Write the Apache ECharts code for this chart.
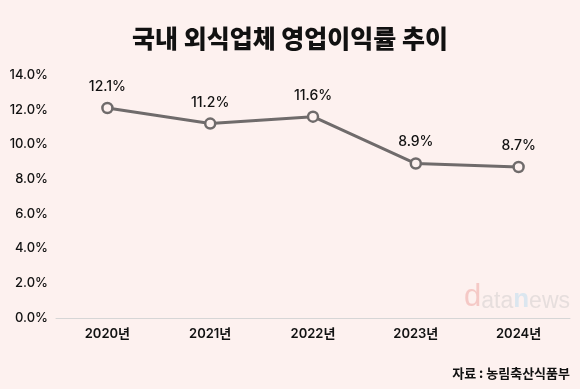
<!DOCTYPE html>
<html><head><meta charset="utf-8">
<script src="https://cdn.jsdelivr.net/npm/echarts@6/dist/echarts.min.js"></script>
<style>html,body{margin:0;padding:0;background:#fdf1ef;}#c{width:580px;height:389px;}</style>
</head><body><div id="c"></div>
<script>
const categories = ['2020년','2021년','2022년','2023년','2024년'];
const values = [12.1, 11.2, 11.6, 8.9, 8.7];
const title = '국내 외식업체 영업이익률 추이';
const source = '자료 : 농림축산식품부';

const chart = echarts.init(document.getElementById('c'));
const font = 'Inter, "Noto Sans CJK KR", sans-serif';
chart.setOption({
  backgroundColor: '#fdf1ef',
  title: {
    text: title, left: 'center', top: 21,
    textStyle: {fontFamily: '"Noto Sans CJK KR", sans-serif', fontWeight: 900, fontSize: 25, color: '#111'}
  },
  grid: {left: 56, right: 10, top: 75, bottom: 71},
  xAxis: {
    type: 'category', data: categories,
    axisLine: {lineStyle: {color: '#d6d6d6', width: 1}},
    axisTick: {show: false},
    axisLabel: {color: '#111', fontSize: 13, fontWeight: 600, margin: 10, fontFamily: font}
  },
  yAxis: {
    type: 'value', min: 0, max: 14, interval: 2,
    splitLine: {show: false},
    axisLine: {show: false}, axisTick: {show: false},
    axisLabel: {color: '#111', fontSize: 13, fontWeight: 500, fontFamily: font, margin: 8,
      formatter: v => v.toFixed(1) + '%'}
  },
  graphic: [
    {type: 'text', right: 10, top: 367, style: {text: source, font: '600 13px "Noto Sans CJK KR", sans-serif', fill: '#111'}},
    {type: 'text', left: 464, top: 282, style: {
      text: '{d|d}{a|ata}{n|n}{a|ews}',
      rich: {
        d: {fontSize: 31, fontFamily: 'Arial, sans-serif', fill: '#f5c9c6', color: '#f5c9c6', verticalAlign: 'bottom'},
        a: {fontSize: 23, fontFamily: 'Arial, sans-serif', fill: '#e6dedd', color: '#e6dedd', verticalAlign: 'bottom'},
        n: {fontSize: 26, fontWeight: 'bold', fontFamily: 'Arial, sans-serif', fill: '#dbe6ef', color: '#dbe6ef', verticalAlign: 'bottom'}
      }
    }}
  ],
  series: [{
    type: 'line', data: values,
    lineStyle: {color: '#6f6b6b', width: 3},
    symbol: 'circle', symbolSize: 10,
    itemStyle: {color: '#fdf1ef', borderColor: '#6f6b6b', borderWidth: 2.5},
    label: {show: true, position: 'top', distance: 8, color: '#111', fontSize: 14, fontWeight: 500, fontFamily: font,
      formatter: p => p.value.toFixed(1) + '%'}
  }]
});
</script></body></html>
